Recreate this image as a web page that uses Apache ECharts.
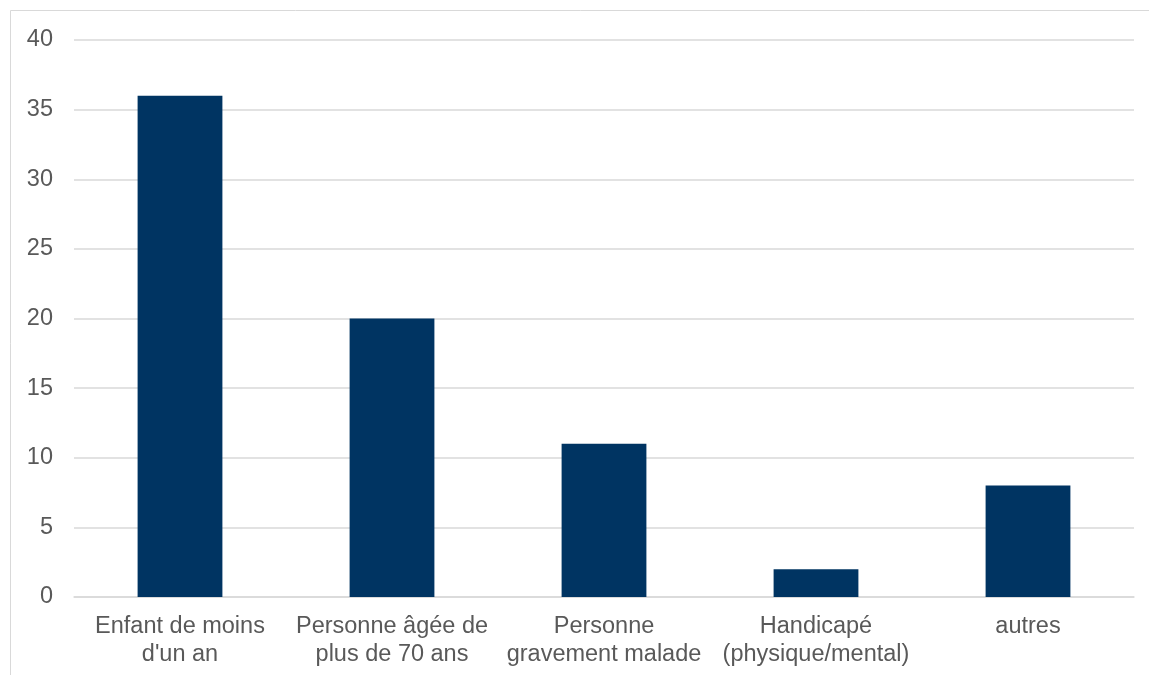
<!DOCTYPE html>
<html>
<head>
<meta charset="utf-8">
<script src="https://cdn.jsdelivr.net/npm/echarts@6/dist/echarts.min.js"></script>
<style>
  html, body { margin: 0; padding: 0; background: #ffffff; }
  #chart { width: 1149px; height: 675px; }
</style>
</head>
<body>
<div id="chart"></div>
<script>
// Categories and values
const categories = [
  "Enfant de moins\nd'un an",
  "Personne âgée de\nplus de 70 ans",
  "Personne\ngravement malade",
  "Handicapé\n(physique/mental)",
  "autres"
];
const values = [36, 20, 11, 2, 8];

const textColor = '#595959';
const gridColor = '#d9d9d9';
const barColor = '#003462';
const fontFamily = 'Liberation Sans, Arial, sans-serif';

const chart = echarts.init(document.getElementById('chart'), null, { renderer: 'canvas' });
chart.setOption({
  animation: false,
  backgroundColor: '#ffffff',
  graphic: [{
    type: 'rect',
    silent: true,
    shape: { x: 10.5, y: 10.5, width: 1300, height: 800 },
    style: { fill: 'none', stroke: gridColor, lineWidth: 1 }
  }],
  grid: { left: 74, right: 15, top: 40, bottom: 78 },
  xAxis: {
    type: 'category',
    data: categories,
    axisLine: { show: true, lineStyle: { color: gridColor, width: 1.5 } },
    axisTick: { show: false },
    axisLabel: {
      color: textColor,
      fontSize: 23.5,
      fontFamily: fontFamily,
      lineHeight: 28,
      margin: 16,
      interval: 0
    }
  },
  yAxis: {
    type: 'value',
    min: 0,
    max: 40,
    interval: 5,
    axisLine: { show: false },
    axisTick: { show: false },
    splitLine: { lineStyle: { color: gridColor, width: 1.5 } },
    axisLabel: {
      color: textColor,
      fontSize: 23.5,
      fontFamily: fontFamily,
      margin: 21
    }
  },
  series: [{
    type: 'bar',
    data: values,
    barWidth: '40%',
    itemStyle: { color: barColor }
  }]
});
</script>
</body>
</html>
